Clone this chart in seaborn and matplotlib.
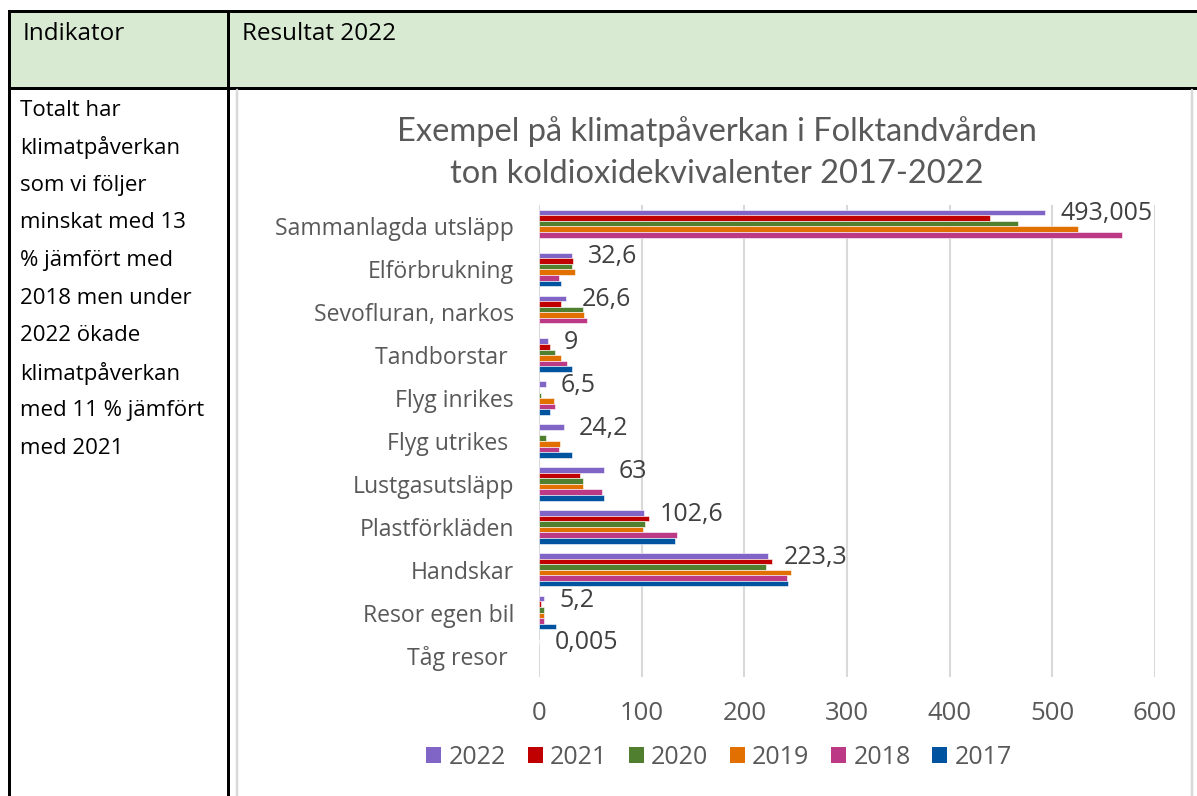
import numpy as np
import pandas as pd
import seaborn as sns
import matplotlib
matplotlib.use("Agg")
import matplotlib.pyplot as plt
from matplotlib.patches import Patch, Rectangle
from matplotlib.lines import Line2D

# ---------------- data ----------------
categories = ["Sammanlagda utsläpp", "Elförbrukning", "Sevofluran, narkos", "Tandborstar ",
              "Flyg inrikes", "Flyg utrikes ", "Lustgasutsläpp", "Plastförkläden",
              "Handskar", "Resor egen bil", "Tåg resor "]
years = ["2022", "2021", "2020", "2019", "2018", "2017"]
nan = np.nan
v2022 = [493.005, 32.6, 26.6, 9, 6.5, 24.2, 63, 102.6, 223.3, 5.2, 0.005]
v2021 = [439, 33, 21, 11, nan, nan, 40, 107, 227, 2, nan]
v2020 = [467, 32, 42.5, 15.5, 1.5, 6.8, 42.5, 103.5, 221, 4.5, nan]
v2019 = [525, 35.5, 43.5, 21, 15, 20, 43, 101, 245, 4.5, nan]
v2018 = [568, 19.5, 47, 27, 16, 19, 61, 134, 242, 4.5, nan]
v2017 = [nan, 21, nan, 32, 10.7, 32.5, 63, 132, 243, 16.5, nan]
xticks = [0, 100, 200, 300, 400, 500, 600]
colors = ["#8165C6", "#C00000", "#4F7F2F", "#E17000", "#BC3986", "#00539F"]

title = "Exempel på klimatpåverkan i Folktandvården\nton koldioxidekvivalenter 2017-2022"
left_text = ["Totalt har", "klimatpåverkan", "som vi följer", "minskat med 13",
             "% jämfört med", "2018 men under", "2022 ökade", "klimatpåverkan",
             "med 11 % jämfört", "med 2021"]

series = {"2022": v2022, "2021": v2021, "2020": v2020, "2019": v2019, "2018": v2018, "2017": v2017}
rows = []
for yr in years:
    for c, v in zip(categories, series[yr]):
        rows.append({"Kategori": c, "År": yr, "Värde": v})
df = pd.DataFrame(rows)

# ---------------- figure ----------------
sns.set_theme(style="white")
plt.rcParams["font.family"] = ["Lato", "DejaVu Sans"]
W, H = 1197, 796
fig = plt.figure(figsize=(W / 100, H / 100), dpi=100)
OS = ["Open Sans", "DejaVu Sans"]

# background (table) axes in pixel coords
bg = fig.add_axes([0, 0, 1, 1])
bg.set_xlim(0, W)
bg.set_ylim(H, 0)
bg.axis("off")
px = 0.72  # points per pixel
bg.add_patch(Rectangle((9, 11), W - 9, 77, facecolor="#D9EAD3", edgecolor="none", zorder=0))
for (x0, y0, x1, y1) in [(9, 11, W, 11), (9, 88, W, 88), (9, 11, 9, H), (228, 11, 228, H)]:
    bg.add_line(Line2D([x0, x1], [y0, y1], color="black", lw=3 * px, solid_capstyle="projecting"))
for xg in [237, 1192]:
    bg.add_line(Line2D([xg, xg], [90, H], color="#D9D9D9", lw=2.5 * px))
bg.text(23, 34, "Indikator", fontsize=17.5, va="center", ha="left", color="black", family=OS)
bg.text(242, 34, "Resultat 2022", fontsize=17.5, va="center", ha="left", color="black", family=OS)
for i, line in enumerate(left_text):
    bg.text(20, 110 + i * 37.6, line, fontsize=16, va="center", ha="left", color="black",
            family=OS)

# title
bg.text(717, 152.5, title, fontsize=23.5, va="center", ha="center", color="#595959",
        linespacing=1.52, family=["Lato", "DejaVu Sans"])

# chart axes
x_left, x_right, y_top, y_bot = 539, 1155, 205, 677
ax = fig.add_axes([x_left / W, 1 - y_bot / H, (x_right - x_left) / W, (y_bot - y_top) / H])
sns.barplot(data=df, y="Kategori", x="Värde", hue="År", hue_order=years, order=categories,
            palette=colors, orient="h", width=0.78, ax=ax, legend=False,
            edgecolor="white", linewidth=0.4, saturation=1)
ax.set_xlim(0, 600)
ax.set_xticks(xticks)
ax.set_xticklabels([str(t) for t in xticks])
ax.set_xlabel("")
ax.set_ylabel("")
for s in ax.spines.values():
    s.set_visible(False)
ax.grid(axis="x", color="#D9D9D9", lw=1.5)
ax.grid(axis="y", visible=False)
ax.set_axisbelow(True)
ax.tick_params(axis="x", length=0, pad=17.5, labelsize=18.5, labelcolor="#595959")
ax.tick_params(axis="y", length=0, pad=18, labelsize=16.6, labelcolor="#595959")
for lab in ax.get_yticklabels() + ax.get_xticklabels():
    lab.set_family(OS)

# data labels for 2022
for patch, v in zip(ax.containers[0].patches, v2022):
    yc = patch.get_y() + patch.get_height() / 2
    lbl = f"{v:g}".replace(".", ",")
    ax.annotate(lbl, xy=(patch.get_width(), yc), xytext=(11, -1), textcoords="offset points",
                va="center", ha="left", fontsize=18, color="#404040", family=OS)

handles = [Patch(facecolor=c, edgecolor="none", label=y) for c, y in zip(colors, years)]
fig.legend(handles=handles, loc="center", bbox_to_anchor=(719 / W, 1 - 757 / H), ncol=6,
           frameon=False, handlelength=0.6, handleheight=0.6, handletextpad=0.3,
           columnspacing=0.85, prop={"family": OS, "size": 18},
           labelcolor="#595959")

fig.savefig("out.png", dpi=100)
